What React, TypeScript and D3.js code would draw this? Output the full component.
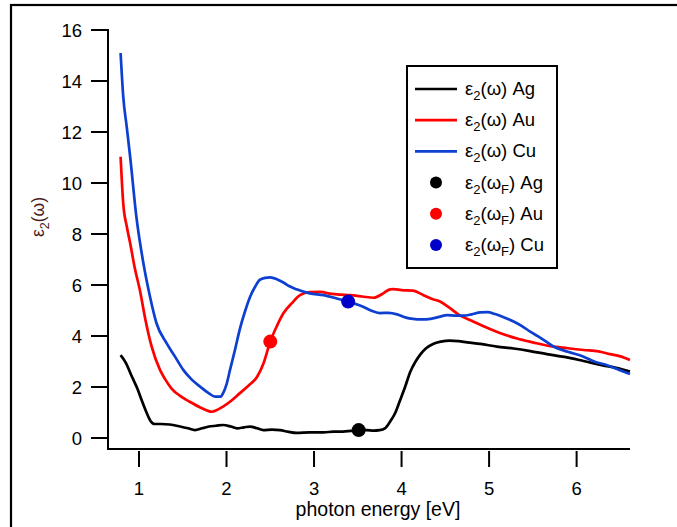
import React from "react";
import * as d3 from "d3";

const agE = [0.79,0.85,0.92,0.98,1.03,1.08,1.13,1.18,1.25,1.35,1.47,1.56,1.64,1.72,1.80,1.88,1.96,2.05,2.12,2.20,2.27,2.35,2.42,2.52,2.61,2.70,2.80,2.95,3.11,3.22,3.33,3.42,3.51,3.60,3.68,3.75,3.81,3.87,3.93,3.98,4.04,4.10,4.16,4.22,4.28,4.36,4.45,4.55,4.65,4.75,4.90,5.09,5.28,5.47,5.66,5.86,6.08,6.30,6.45,6.61];
const agV = [3.25,2.95,2.4,1.95,1.49,1.05,0.68,0.55,0.55,0.53,0.45,0.38,0.31,0.38,0.45,0.48,0.51,0.45,0.38,0.42,0.45,0.38,0.31,0.33,0.31,0.25,0.2,0.22,0.22,0.25,0.25,0.28,0.31,0.31,0.29,0.31,0.38,0.65,1.0,1.45,2.0,2.6,3.0,3.3,3.52,3.69,3.78,3.82,3.8,3.75,3.69,3.58,3.51,3.41,3.29,3.18,3.02,2.85,2.75,2.61];

const auE = [0.79,0.82,0.86,0.90,0.95,1.01,1.07,1.145,1.24,1.30,1.37,1.47,1.58,1.70,1.83,1.96,2.05,2.15,2.25,2.35,2.42,2.50,2.57,2.65,2.75,2.84,2.95,3.07,3.20,3.30,3.41,3.55,3.68,3.78,3.87,3.91,4.00,4.13,4.25,4.35,4.44,4.55,4.67,4.80,4.93,5.10,5.32,5.50,5.70,5.90,6.08,6.25,6.38,6.50,6.61];
const auV = [11.03,9.2,8.3,7.63,6.7,5.8,4.7,3.58,2.67,2.3,1.95,1.65,1.42,1.2,1.03,1.23,1.45,1.75,2.05,2.4,2.9,3.78,4.35,4.89,5.3,5.6,5.72,5.73,5.65,5.62,5.6,5.55,5.5,5.65,5.83,5.84,5.8,5.78,5.6,5.45,5.35,5.1,4.8,4.6,4.39,4.15,3.9,3.75,3.6,3.52,3.45,3.4,3.29,3.2,3.06];

const cuE = [0.79,0.82,0.86,0.90,0.97,1.05,1.126,1.20,1.315,1.41,1.506,1.60,1.70,1.80,1.87,1.93,1.96,2.00,2.04,2.10,2.15,2.21,2.27,2.33,2.38,2.44,2.50,2.58,2.65,2.72,2.80,2.95,3.11,3.26,3.39,3.48,3.56,3.65,3.75,3.85,3.95,4.05,4.13,4.23,4.33,4.43,4.52,4.62,4.71,4.80,4.90,4.98,5.07,5.18,5.28,5.38,5.47,5.60,5.73,5.90,6.08,6.20,6.34,6.48,6.61];
const cuV = [15.1,13.4,12.2,11.0,8.68,6.86,5.54,4.5,3.72,3.2,2.67,2.3,2.01,1.75,1.62,1.62,1.75,2.1,2.67,3.5,4.24,4.95,5.54,5.95,6.2,6.28,6.3,6.22,6.1,5.95,5.83,5.67,5.6,5.47,5.35,5.25,5.15,5.0,4.9,4.91,4.85,4.72,4.67,4.65,4.67,4.75,4.82,4.8,4.8,4.85,4.93,4.94,4.86,4.72,4.57,4.38,4.17,3.9,3.6,3.38,3.19,3.0,2.86,2.68,2.51];

const fermiMetals = ["Ag", "Au", "Cu"];
const fermiE = [3.51, 2.5, 3.39];
const fermiV = [0.31, 3.78, 5.35];

const xTicks = [1, 2, 3, 4, 5, 6];
const yTicks = [0, 2, 4, 6, 8, 10, 12, 14, 16];

const lineColors = ["#000000", "#ff0000", "#0d3fd1"];
const dotColors = ["#000000", "#ff0000", "#0000c8"];

const FONT = "'Liberation Sans', Arial, sans-serif";

export default function App() {
  const x = d3.scaleLinear().domain([0.79, 6.61]).range([120.6, 630]);
  const y = d3.scaleLinear().domain([0, 16]).range([438, 30]);
  const series = [
    { e: agE, v: agV },
    { e: auE, v: auV },
    { e: cuE, v: cuV },
  ];
  const line = d3
    .line<[number, number]>()
    .x((d) => x(d[0]))
    .y((d) => y(d[1]))
    .curve(d3.curveMonotoneX);

  const axisX0 = 108;
  const axisY0 = 449;

  const legendRows = [0, 1, 2, 3, 4, 5];
  const legRowY = (i: number) => 89 + i * 31.2;

  return (
    <svg
      width={677}
      height={527}
      style={{ position: "absolute", left: 0, top: 0, background: "#fff" }}
      fontFamily={FONT}
    >
      <rect x={0} y={0} width={677} height={527} fill="#fff" />
      {/* outer frame (only top and left visible) */}
      <rect x={11} y={5} width={800} height={700} fill="none" stroke="#000" strokeWidth={2.2} />

      {/* series lines */}
      {series.map((s, i) => (
        <path
          key={i}
          d={line(s.e.map((e, k) => [e, s.v[k]] as [number, number])) || ""}
          fill="none"
          stroke={lineColors[i]}
          strokeWidth={2.7}
          strokeLinejoin="round"
        />
      ))}
      {/* fermi dots */}
      {fermiE.map((e, i) => (
        <circle key={i} cx={x(e)} cy={y(fermiV[i])} r={7} fill={dotColors[i]} />
      ))}

      {/* left axis */}
      <line x1={axisX0} x2={axisX0} y1={y(16) - 1} y2={axisY0 + 1} stroke="#000" strokeWidth={2} />
      {yTicks.map((t) => (
        <g key={t}>
          <line x1={91} x2={axisX0} y1={y(t)} y2={y(t)} stroke="#000" strokeWidth={2} />
          <text x={82} y={y(t)} dy="0.36em" textAnchor="end" fontSize={18.5} fill="#000">
            {t}
          </text>
        </g>
      ))}
      {/* bottom axis */}
      <line x1={axisX0 - 1} x2={630} y1={axisY0} y2={axisY0} stroke="#000" strokeWidth={2} />
      {xTicks.map((t) => (
        <g key={t}>
          <line x1={x(t)} x2={x(t)} y1={451} y2={467} stroke="#000" strokeWidth={2} />
          <text x={x(t)} y={495} textAnchor="middle" fontSize={18.5} fill="#000">
            {t}
          </text>
        </g>
      ))}
      <text x={378} y={516} textAnchor="middle" fontSize={19.5} fill="#000">
        photon energy [eV]
      </text>
      <text
        transform="translate(44,217) rotate(-90)"
        textAnchor="middle"
        fontSize={17.5}
        fill="#4a1c1c"
      >
        ε<tspan fontSize={12.5} dy={5}>2</tspan>
        <tspan dy={-5}>(ω)</tspan>
      </text>

      {/* legend */}
      <rect x={407} y={66} width={150} height={202} fill="#fff" stroke="#000" strokeWidth={2} />
      {legendRows.map((i) => {
        const m = i % 3;
        const isDot = i >= 3;
        const ry = legRowY(i);
        return (
          <g key={i}>
            {isDot ? (
              <circle cx={436} cy={ry} r={6} fill={dotColors[m]} />
            ) : (
              <line x1={415} x2={457} y1={ry} y2={ry} stroke={lineColors[m]} strokeWidth={2.7} />
            )}
            <text x={465} y={ry + 6} fontSize={18.5} fill="#000">
              ε<tspan fontSize={13} dy={5}>2</tspan>
              <tspan dy={-5}>(ω</tspan>
              {isDot ? (
                <>
                  <tspan fontSize={13} dy={5}>F</tspan>
                  <tspan dy={-5}>)</tspan>
                </>
              ) : (
                <tspan>)</tspan>
              )}
              <tspan> {fermiMetals[m]}</tspan>
            </text>
          </g>
        );
      })}
    </svg>
  );
}
